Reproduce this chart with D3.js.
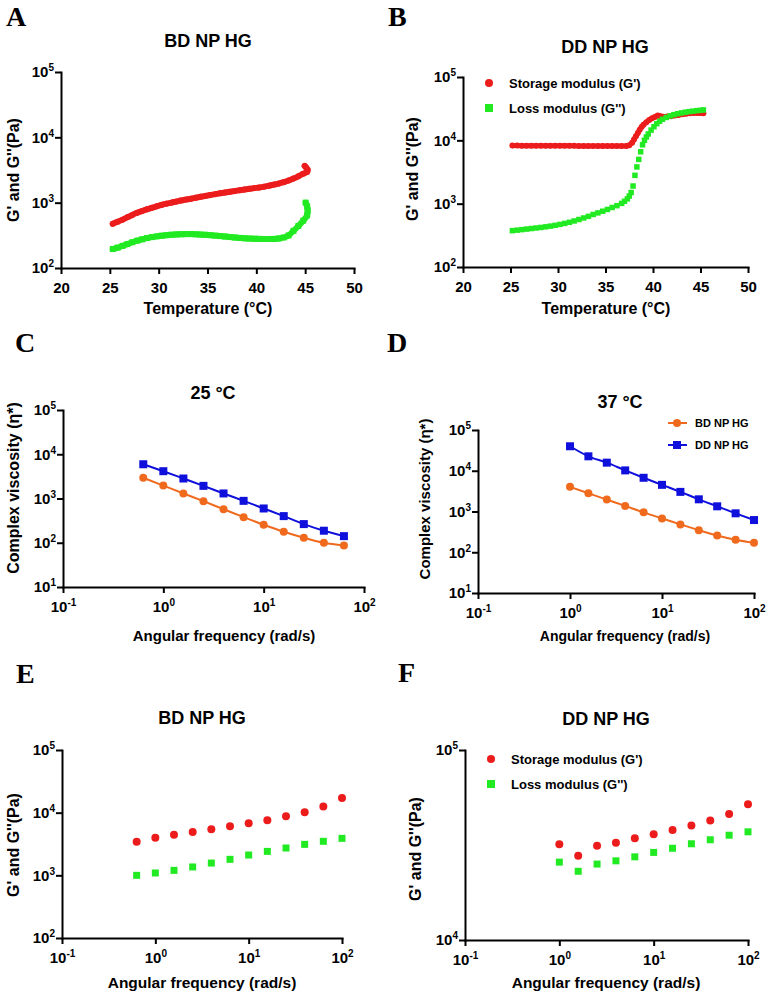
<!DOCTYPE html>
<html>
<head>
<meta charset="utf-8">
<script src="https://cdn.jsdelivr.net/npm/d3@7"></script>
<style>
body { margin: 0; background: #fff; }
text { font-family: "Liberation Sans", Arial, sans-serif; font-weight: bold; fill: #000; }
text.letter { font-family: "Liberation Serif", "Times New Roman", serif; }
</style>
</head>
<body>
<div id="chart"></div>
<script>
// A: BD NP HG temperature sweep
const aStorageT = [25.3, 25.8, 26.3, 26.8, 27.3, 27.8, 28.3, 28.8, 29.3, 29.8, 30.3, 30.8, 31.3, 31.8, 32.3, 32.8, 33.3, 33.8, 34.3, 34.8, 35.3, 35.8, 36.3, 36.8, 37.3, 37.8, 38.3, 38.8, 39.3, 39.8, 40.3, 40.8, 41.3, 41.8, 42.3, 42.8, 43.3, 43.8, 44.3, 44.8, 45.2, 45.25, 45.1, 44.95]
const aStorage = [475, 510, 550, 600, 650, 700, 745, 790, 835, 880, 925, 965, 1000, 1040, 1080, 1115, 1150, 1190, 1230, 1270, 1310, 1350, 1390, 1430, 1470, 1510, 1550, 1590, 1630, 1670, 1710, 1760, 1820, 1890, 1960, 2060, 2180, 2340, 2530, 2780, 2950, 3200, 3450, 3650]
const aLossT = [25.3, 25.8, 26.3, 26.8, 27.3, 27.8, 28.3, 28.8, 29.3, 29.8, 30.3, 30.8, 31.3, 31.8, 32.3, 32.8, 33.3, 33.8, 34.3, 34.8, 35.3, 35.8, 36.3, 36.8, 37.3, 37.8, 38.3, 38.8, 39.3, 39.8, 40.3, 40.8, 41.3, 41.8, 42.3, 42.8, 43.3, 43.8, 44.3, 44.8, 45.2, 45.25, 45.2, 45.05]
const aLoss = [195, 205, 218, 232, 248, 262, 275, 287, 297, 305, 312, 318, 323, 327, 329, 330, 330, 328, 325, 322, 318, 313, 308, 303, 298, 293, 289, 285, 282, 280, 279, 278, 278, 279, 283, 293, 315, 370, 440, 530, 640, 760, 880, 1000]

// B: DD NP HG temperature sweep
const bStorageT = [25.2, 25.7, 26.2, 26.7, 27.2, 27.7, 28.2, 28.7, 29.2, 29.7, 30.2, 30.7, 31.2, 31.7, 32.2, 32.7, 33.2, 33.7, 34.2, 34.7, 35.2, 35.7, 36.2, 36.7, 37.2, 37.5, 37.8, 38.0, 38.2, 38.4, 38.6, 38.8, 39.0, 39.3, 39.6, 39.9, 40.2, 40.5, 40.8, 41.1, 41.5, 41.9, 42.3, 42.7, 43.1, 43.5, 43.9, 44.3, 44.7, 45.0, 45.3]
const bStorage = [8250, 8250, 8230, 8230, 8220, 8220, 8210, 8200, 8200, 8200, 8190, 8190, 8180, 8180, 8170, 8170, 8160, 8150, 8150, 8140, 8130, 8120, 8110, 8110, 8150, 8400, 9200, 10300, 11600, 13000, 14700, 16200, 17600, 19300, 20900, 22300, 23400, 24600, 24000, 23500, 23700, 24100, 24600, 25200, 25800, 26400, 26800, 27000, 27000, 26900, 26800]
const bLossT = [25.2, 25.7, 26.2, 26.7, 27.2, 27.7, 28.2, 28.7, 29.2, 29.7, 30.2, 30.7, 31.2, 31.7, 32.2, 32.7, 33.2, 33.7, 34.2, 34.7, 35.2, 35.7, 36.2, 36.7, 37.0, 37.3, 37.5, 37.7, 37.9, 38.1, 38.3, 38.5, 38.7, 38.9, 39.1, 39.3, 39.5, 39.8, 40.1, 40.4, 40.7, 41.0, 41.4, 41.8, 42.2, 42.6, 43.0, 43.4, 43.8, 44.2, 44.6, 45.0, 45.3]
const bLoss = [375, 382, 389, 397, 405, 413, 421, 431, 442, 455, 470, 488, 508, 533, 562, 595, 630, 675, 715, 760, 810, 870, 930, 1010, 1090, 1190, 1320, 1500, 1900, 2800, 3800, 5000, 6600, 8500, 10000, 11300, 12600, 14500, 16400, 18300, 20000, 21500, 23000, 24300, 25400, 26300, 27100, 27800, 28400, 28900, 29400, 29800, 30200]

// C, D: complex viscosity
const cFreq = [0.631, 1, 1.585, 2.512, 3.981, 6.31, 10, 15.85, 25.12, 39.81, 63.1]
const cBD = [2930, 1960, 1300, 871, 574, 379, 255, 177, 130, 100, 87]
const cDD = [5940, 4140, 2830, 1930, 1300, 885, 595, 400, 264, 187, 141]
const dFreq = [1, 1.585, 2.512, 3.981, 6.31, 10, 15.85, 25.12, 39.81, 63.1, 100]
const dBD = [4030, 2810, 1960, 1370, 953, 678, 482, 349, 258, 202, 170]
const dDD = [39900, 22600, 15800, 10200, 6720, 4510, 3030, 1990, 1340, 902, 617]

// E, F: frequency sweeps
const eFreq = [0.631, 1, 1.585, 2.512, 3.981, 6.31, 10, 15.85, 25.12, 39.81, 63.1, 100]
const eStorage = [3440, 3990, 4460, 4910, 5420, 6050, 6760, 7550, 8740, 10200, 12600, 17100]
const eLoss = [1000, 1090, 1200, 1360, 1570, 1800, 2110, 2410, 2730, 3120, 3490, 3890]
const fFreq = [1, 1.585, 2.512, 3.981, 6.31, 10, 15.85, 25.12, 39.81, 63.1, 100]
const fStorage = [31900, 27800, 31300, 32500, 34300, 36000, 37900, 40100, 42500, 46100, 51800]
const fLoss = [25700, 23000, 25100, 26100, 27400, 28900, 30400, 32100, 33700, 35600, 37100]

const tempTicks = [20, 25, 30, 35, 40, 45, 50]
const freqTicks = [0.1, 1, 10, 100]

const red = '#ec1c1c'
const green = '#22ea22'
const orange = '#f06a1e'
const blue = '#1010dc'

const svg = d3.select('#chart').append('svg').attr('width', 771).attr('height', 1000)

function pow10(sel) {
    sel.each(function (d) {
        const t = d3.select(this).text('10')
        t.append('tspan')
            .attr('dy', -6)
            .attr('font-size', 10)
            .text(Math.round(Math.log10(d)))
    })
}

function frame(p) {
    const g = svg.append('g')
    const x = (p.xLog ? d3.scaleLog() : d3.scaleLinear())
        .domain(p.xDomain)
        .range([p.l, p.r])
    const y = d3.scaleLog().domain(p.yDomain).range([p.b, p.t])

    const xAxis = d3.axisBottom(x).tickValues(p.xTicks).tickSize(6).tickSizeOuter(0).tickPadding(8)
    if (!p.xLog) xAxis.tickFormat(d3.format('d'))
    const gx = g.append('g')
        .attr('transform', 'translate(0,' + p.b + ')')
        .call(xAxis)
        .attr('font-size', 15)
    if (p.xLog) gx.selectAll('.tick text').call(pow10)

    const gy = g.append('g')
        .attr('transform', 'translate(' + p.l + ',0)')
        .call(d3.axisLeft(y).tickValues(p.yTicks).tickSize(6).tickSizeOuter(0).tickPadding(1))
        .attr('font-size', 15)
    gy.selectAll('.tick text').call(pow10)

    g.selectAll('.domain').attr('stroke-width', 2).attr('stroke-linecap', 'square')
    g.selectAll('.tick line').attr('stroke-width', 2)

    g.append('text').attr('class', 'letter')
        .attr('x', p.letter[0]).attr('y', p.letter[1])
        .attr('font-size', 28).text(p.id)
    g.append('text')
        .attr('x', p.title[0]).attr('y', p.title[1])
        .attr('text-anchor', 'middle').attr('font-size', 18)
        .text(p.titleText)
    g.append('text')
        .attr('x', p.xLabel[0]).attr('y', p.xLabel[1])
        .attr('text-anchor', 'middle').attr('font-size', p.xLabel[2])
        .text(p.xText)
    g.append('text')
        .attr('transform', 'translate(' + p.yLabel[0] + ',' + p.yLabel[1] + ') rotate(-90)')
        .attr('text-anchor', 'middle').attr('font-size', p.yLabel[2])
        .text(p.yText)
    return { g, x, y }
}

function band(f, xs, ys, color, w) {
    f.g.append('path')
        .datum(d3.zip(xs, ys))
        .attr('fill', 'none')
        .attr('stroke', color)
        .attr('stroke-width', w)
        .attr('stroke-linecap', 'round')
        .attr('stroke-linejoin', 'round')
        .attr('d', d3.line().x(d => f.x(d[0])).y(d => f.y(d[1])).curve(d3.curveCatmullRom))
}

function dots(f, xs, ys, color, r) {
    f.g.append('g').selectAll('circle')
        .data(d3.zip(xs, ys))
        .join('circle')
        .attr('cx', d => f.x(d[0]))
        .attr('cy', d => f.y(d[1]))
        .attr('r', r)
        .attr('fill', color)
}

function squares(f, xs, ys, color, s) {
    f.g.append('g').selectAll('rect')
        .data(d3.zip(xs, ys))
        .join('rect')
        .attr('x', d => f.x(d[0]) - s / 2)
        .attr('y', d => f.y(d[1]) - s / 2)
        .attr('width', s)
        .attr('height', s)
        .attr('fill', color)
}

function connected(f, xs, ys, color) {
    f.g.append('path')
        .datum(d3.zip(xs, ys))
        .attr('fill', 'none')
        .attr('stroke', color)
        .attr('stroke-width', 2)
        .attr('d', d3.line().x(d => f.x(d[0])).y(d => f.y(d[1])).curve(d3.curveMonotoneX))
}

function modulusLegend(g, x, y) {
    g.append('circle').attr('cx', x).attr('cy', y).attr('r', 4).attr('fill', red)
    g.append('rect').attr('x', x - 4).attr('y', y + 21).attr('width', 8).attr('height', 8).attr('fill', green)
    g.append('text').attr('x', x + 20).attr('y', y + 5).attr('font-size', 13).text("Storage modulus (G')")
    g.append('text').attr('x', x + 20).attr('y', y + 30).attr('font-size', 13).text("Loss modulus (G'')")
}

const gLabel = "G' and G''(Pa)"
const freqLabel = 'Angular frequency (rad/s)'
const viscLabel = 'Complex viscosity (\u03b7*)'

// A
const fa = frame({
    id: 'A', letter: [6, 26], titleText: 'BD NP HG', title: [208, 47],
    l: 61, r: 354, t: 72, b: 268, xDomain: [20, 50], yDomain: [1e2, 1e5],
    xTicks: tempTicks, yTicks: [1e2, 1e3, 1e4, 1e5],
    xText: 'Temperature (\u00b0C)', xLabel: [208, 314, 16], yText: gLabel, yLabel: [19, 170, 16]
})
band(fa, aStorageT, aStorage, red, 6)
dots(fa, aStorageT, aStorage, red, 3)
band(fa, aLossT, aLoss, green, 6)
squares(fa, aLossT, aLoss, green, 6)

// B
const fb = frame({
    id: 'B', letter: [388, 26], titleText: 'DD NP HG', title: [605, 53],
    l: 463, r: 748, t: 77, b: 267, xDomain: [20, 50], yDomain: [1e2, 1e5],
    xTicks: tempTicks, yTicks: [1e2, 1e3, 1e4, 1e5],
    xText: 'Temperature (\u00b0C)', xLabel: [606, 314, 16], yText: gLabel, yLabel: [418, 169, 16]
})
band(fb, bStorageT, bStorage, red, 5)
dots(fb, bStorageT, bStorage, red, 3)
squares(fb, bLossT, bLoss, green, 5.5)
modulusLegend(fb.g, 489, 83)

// C
const fc = frame({
    id: 'C', letter: [15, 352], titleText: '25 \u00b0C', title: [213, 399],
    l: 63, r: 364, t: 410, b: 587, xLog: true, xDomain: [0.1, 100], yDomain: [10, 1e5],
    xTicks: freqTicks, yTicks: [10, 1e2, 1e3, 1e4, 1e5],
    xText: freqLabel, xLabel: [224, 641, 15], yText: viscLabel, yLabel: [19, 488, 16]
})
connected(fc, cFreq, cBD, orange)
dots(fc, cFreq, cBD, orange, 4)
connected(fc, cFreq, cDD, blue)
squares(fc, cFreq, cDD, blue, 8)

// D
const fd = frame({
    id: 'D', letter: [387, 352], titleText: '37 \u00b0C', title: [620, 408],
    l: 478, r: 754, t: 430, b: 593, xLog: true, xDomain: [0.1, 100], yDomain: [10, 1e5],
    xTicks: freqTicks, yTicks: [10, 1e2, 1e3, 1e4, 1e5],
    xText: freqLabel, xLabel: [625, 641, 14], yText: viscLabel, yLabel: [430, 499, 15]
})
connected(fd, dFreq, dBD, orange)
dots(fd, dFreq, dBD, orange, 4)
connected(fd, dFreq, dDD, blue)
squares(fd, dFreq, dDD, blue, 8)
const legD = [['BD NP HG', orange, 'circle'], ['DD NP HG', blue, 'square']]
legD.forEach((d, i) => {
    const yy = 423 + i * 22
    fd.g.append('line').attr('x1', 668).attr('x2', 687).attr('y1', yy).attr('y2', yy)
        .attr('stroke', d[1]).attr('stroke-width', 2)
    if (d[2] === 'circle') fd.g.append('circle').attr('cx', 677).attr('cy', yy).attr('r', 4).attr('fill', d[1])
    else fd.g.append('rect').attr('x', 673).attr('y', yy - 4).attr('width', 8).attr('height', 8).attr('fill', d[1])
    fd.g.append('text').attr('x', 695).attr('y', yy + 4).attr('font-size', 11).text(d[0])
})

// E
const fe = frame({
    id: 'E', letter: [16, 683], titleText: 'BD NP HG', title: [202, 724],
    l: 62, r: 342, t: 750, b: 938, xLog: true, xDomain: [0.1, 100], yDomain: [1e2, 1e5],
    xTicks: freqTicks, yTicks: [1e2, 1e3, 1e4, 1e5],
    xText: freqLabel, xLabel: [202, 988, 15.5], yText: gLabel, yLabel: [19, 845, 16]
})
dots(fe, eFreq, eStorage, red, 4)
squares(fe, eFreq, eLoss, green, 7)

// F
const ff = frame({
    id: 'F', letter: [398, 682], titleText: 'DD NP HG', title: [606, 725],
    l: 465, r: 748, t: 750, b: 940, xLog: true, xDomain: [0.1, 100], yDomain: [1e4, 1e5],
    xTicks: freqTicks, yTicks: [1e4, 1e5],
    xText: freqLabel, xLabel: [606, 988, 15.5], yText: gLabel, yLabel: [421, 849, 16]
})
dots(ff, fFreq, fStorage, red, 4)
squares(ff, fFreq, fLoss, green, 7)
modulusLegend(ff.g, 491, 759)
</script>
</body>
</html>
